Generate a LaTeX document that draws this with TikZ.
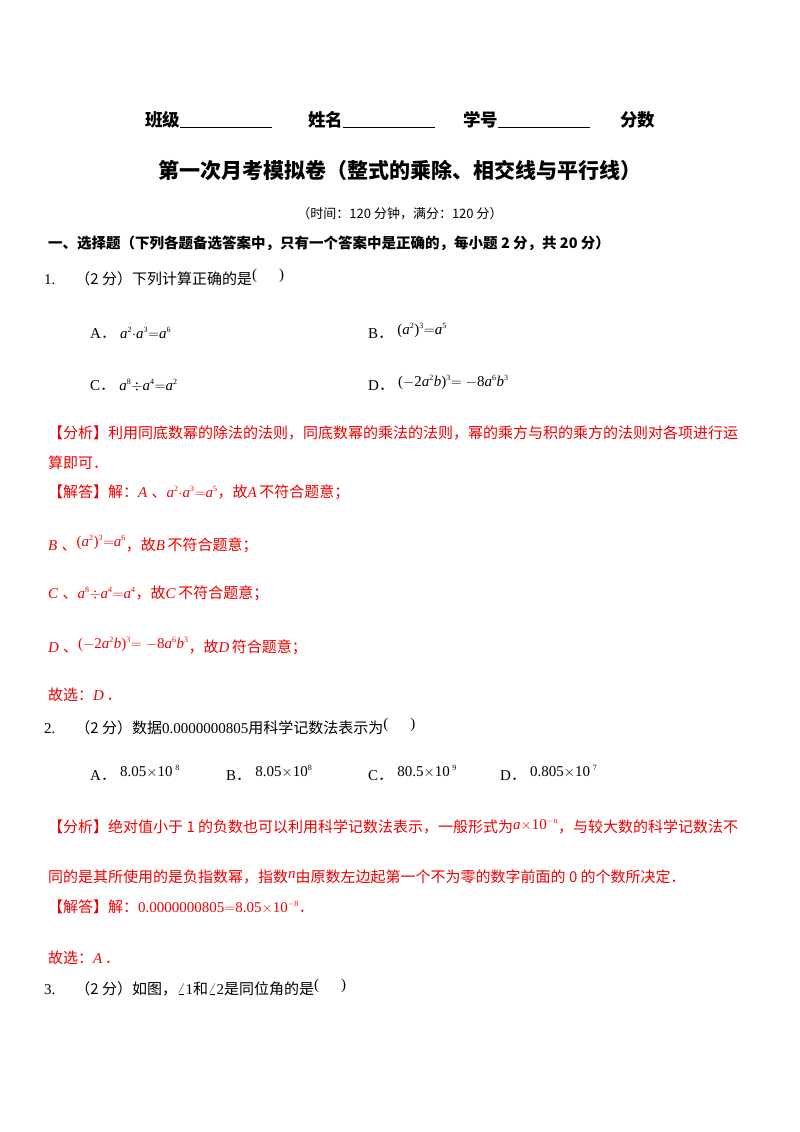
\documentclass[tikz,border=0pt]{standalone}
\usepackage{fontspec}
\setmainfont{Liberation Serif}
\newfontfamily\cjk{Noto Sans CJK SC}
\definecolor{red1}{RGB}{240,0,0}
\newcommand{\m}[1]{\textit{#1}}
\newcommand{\su}[1]{\textsuperscript{\footnotesize #1}}
\newcommand{\dt}{{\cjk ．}}
\begin{document}
\begin{tikzpicture}[x=1pt,y=-1pt,
 t/.style={anchor=base west,inner sep=0pt,font=\fontsize{15}{17}\selectfont},
 r/.style={t,text=red1},
 h/.style={anchor=base,inner sep=0pt,font=\fontsize{17.5}{20}\selectfont\cjk\bfseries}]
\useasboundingbox (0,0) rectangle (800,1132);
\fill[white] (0,0) rectangle (800,1132);
\node[h] (hd) at (400,126) {班级\underline{\hspace{92pt}}\hspace{36pt}姓名\underline{\hspace{92pt}}\hspace{28pt}学号\underline{\hspace{92pt}}\hspace{30pt}分数};
\node[h,font=\fontsize{21}{24}\selectfont\cjk\bfseries] (ti) at (400,178) {第一次月考模拟卷（整式的乘除、相交线与平行线）};
\node[t,anchor=base] (tm) at (400,218) {\fontsize{13}{15}\selectfont\cjk（时间：120 分钟，满分：120 分）};
\node[t] (s1) at (48,248) {\fontsize{14.5}{17}\selectfont\cjk\bfseries 一、选择题（下列各题备选答案中，只有一个答案中是正确的，每小题 2 分，共 20 分）};
\node[t] (q1) at (44,284) {1.\hspace{20pt}{\cjk（2 分）下列计算正确的是}\raisebox{5pt}{(\hspace{22pt})}};
\node[t] (a1) at (90,338) {A\dt\;\m{a}\su{2}$\cdot$\m{a}\su{3}$=$\m{a}\su{6}};
\node[t] (b1) at (368,338) {B\dt\;\raisebox{4pt}{(\m{a}\su{2})\su{3}$=$\m{a}\su{5}}};
\node[t] (c1) at (90,390) {C\dt\;\m{a}\su{8}$\div$\m{a}\su{4}$=$\m{a}\su{2}};
\node[t] (d1) at (368,390) {D\dt\;\raisebox{4pt}{($-$2\m{a}\su{2}\m{b})\su{3}$=-$8\m{a}\su{6}\m{b}\su{3}}};
\node[r] (f1) at (48,438) {\cjk【分析】利用同底数幂的除法的法则，同底数幂的乘法的法则，幂的乘方与积的乘方的法则对各项进行运};
\node[r] (f1b) at (48,468) {\cjk 算即可．};
\node[r] (j1) at (48,497) {{\cjk【解答】解：}\m{A}\;{\cjk 、}\m{a}\su{2}$\cdot$\m{a}\su{3}$=$\m{a}\su{5}{\cjk ，故}\m{A}\,{\cjk 不符合题意；}};
\node[r] (jb) at (48,550) {\m{B}\;{\cjk 、}\raisebox{4pt}{(\m{a}\su{2})\su{3}$=$\m{a}\su{6}}{\cjk ，故}\m{B}\,{\cjk 不符合题意；}};
\node[r] (jc) at (48,598) {\m{C}\;{\cjk 、}\m{a}\su{8}$\div$\m{a}\su{4}$=$\m{a}\su{4}{\cjk ，故}\m{C}\,{\cjk 不符合题意；}};
\node[r] (jd) at (48,652) {\m{D}\;{\cjk 、}\raisebox{4pt}{($-$2\m{a}\su{2}\m{b})\su{3}$=-$8\m{a}\su{6}\m{b}\su{3}}{\cjk ，故}\m{D}\,{\cjk 符合题意；}};
\node[r] (g1) at (48,700) {{\cjk 故选：}\m{D}\,\dt};
\node[t] (q2) at (44,733) {2.\hspace{20pt}{\cjk（2 分）数据}0.0000000805{\cjk 用科学记数法表示为}\raisebox{5pt}{(\hspace{22pt})}};
\node[t] (a2) at (90,780) {A\dt\;\raisebox{4pt}{8.05$\times$10\su{\,\,8}}};
\node[t] (b2) at (226,780) {B\dt\;\raisebox{4pt}{8.05$\times$10\su{8}}};
\node[t] (c2) at (368,780) {C\dt\;\raisebox{4pt}{80.5$\times$10\su{\,\,9}}};
\node[t] (d2) at (500,780) {D\dt\;\raisebox{4pt}{0.805$\times$10\su{\,\,7}}};
\node[r] (f2) at (48,832) {{\cjk【分析】绝对值小于 1 的负数也可以利用科学记数法表示，一般形式为}\raisebox{3pt}{\m{a}$\times$10\su{$-$\m{n}}}{\cjk ，与较大数的科学记数法不}};
\node[r] (f2b) at (48,882) {{\cjk 同的是其所使用的是负指数幂，指数}\raisebox{4pt}{\m{n}}{\cjk 由原数左边起第一个不为零的数字前面的 0 的个数所决定．}};
\node[r] (j2) at (48,912) {{\cjk【解答】解：}0.0000000805$=$8.05$\times$10\su{$-$8}\dt};
\node[r] (g2) at (48,963) {{\cjk 故选：}\m{A}\,\dt};
\node[t] (q3) at (44,994) {3.\hspace{20pt}{\cjk（2 分）如图，}$\angle$1{\cjk 和}$\angle$2{\cjk 是同位角的是}\raisebox{5pt}{(\hspace{22pt})}};
\end{tikzpicture}
\end{document}
